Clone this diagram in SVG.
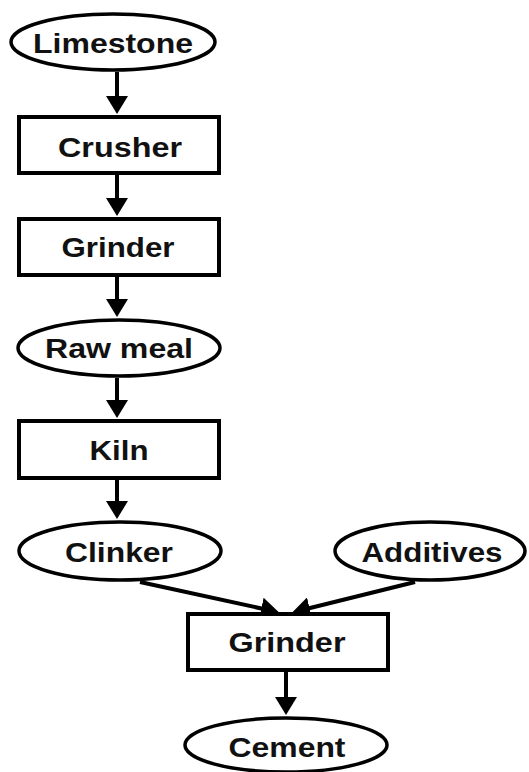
<svg xmlns="http://www.w3.org/2000/svg" width="529" height="772" viewBox="0 0 529 772">
<style>
.n{fill:#fff;stroke:#000;stroke-width:3.5}
.r{fill:#fff;stroke:#000;stroke-width:4}
.t{font-family:"Liberation Sans",Arial,sans-serif;font-weight:bold;font-size:27px;fill:#111;text-anchor:middle}
.c{stroke:#000;stroke-width:4;fill:none;marker-end:url(#ah)}
</style>
<defs>
<marker id="ah" markerUnits="userSpaceOnUse" markerWidth="18" markerHeight="22" refX="12" refY="11" orient="auto">
<path d="M0,0 L18,11 L0,22 z" fill="#000"/>
</marker>
</defs>
<rect width="529" height="772" fill="#fff"/>
<g id="connectors">
<line class="c" x1="117" y1="72" x2="117" y2="108"/>
<line class="c" x1="117" y1="175" x2="117" y2="210"/>
<line class="c" x1="117" y1="277" x2="117" y2="311"/>
<line class="c" x1="117" y1="378" x2="117" y2="412"/>
<line class="c" x1="117" y1="480" x2="117" y2="513"/>
<line class="c" x1="140" y1="582" x2="273" y2="611"/>
<line class="c" x1="415" y1="582" x2="298" y2="611"/>
<line class="c" x1="286" y1="671" x2="286" y2="709"/>
</g>
<g id="limestone">
<ellipse class="n" cx="113" cy="42" rx="102" ry="28"/>
<text class="t" x="113" y="53" textLength="160" lengthAdjust="spacingAndGlyphs">Limestone</text>
</g>
<g id="crusher">
<rect class="r" x="19" y="117" width="200" height="56"/>
<text class="t" x="120" y="157" textLength="124" lengthAdjust="spacingAndGlyphs">Crusher</text>
</g>
<g id="grinder1">
<rect class="r" x="19" y="219" width="200" height="56"/>
<text class="t" x="118" y="257" textLength="113" lengthAdjust="spacingAndGlyphs">Grinder</text>
</g>
<g id="rawmeal">
<ellipse class="n" cx="119" cy="348" rx="101" ry="28"/>
<text class="t" x="119" y="358" textLength="148" lengthAdjust="spacingAndGlyphs">Raw meal</text>
</g>
<g id="kiln">
<rect class="r" x="19" y="421" width="200" height="57"/>
<text class="t" x="119" y="460" textLength="59" lengthAdjust="spacingAndGlyphs">Kiln</text>
</g>
<g id="clinker">
<ellipse class="n" cx="120" cy="551" rx="101" ry="29"/>
<text class="t" x="119" y="562" textLength="108" lengthAdjust="spacingAndGlyphs">Clinker</text>
</g>
<g id="additives">
<ellipse class="n" cx="430" cy="551" rx="95" ry="29"/>
<text class="t" x="432" y="562" textLength="141" lengthAdjust="spacingAndGlyphs">Additives</text>
</g>
<g id="grinder2">
<rect class="r" x="188" y="614" width="200" height="56"/>
<text class="t" x="287" y="652" textLength="117" lengthAdjust="spacingAndGlyphs">Grinder</text>
</g>
<g id="cement">
<ellipse class="n" cx="286" cy="745" rx="101" ry="27"/>
<text class="t" x="287" y="757" textLength="117" lengthAdjust="spacingAndGlyphs">Cement</text>
</g>
</svg>
